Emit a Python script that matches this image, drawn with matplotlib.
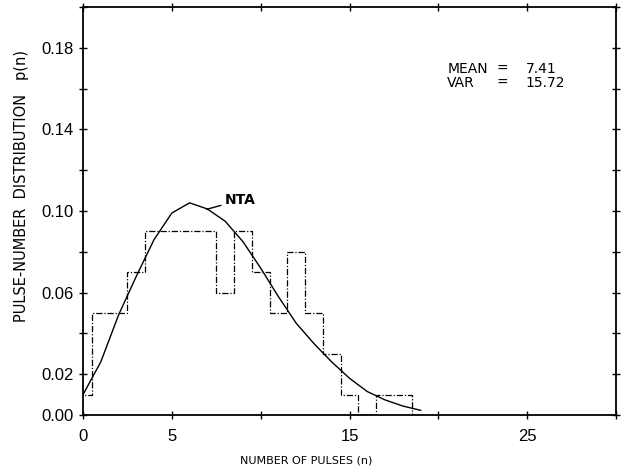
import numpy as np
import matplotlib
matplotlib.use("Agg")
import matplotlib.pyplot as plt

# observed pulse-number histogram, bins centred on n = 0..18
n_obs = np.arange(0, 19)
p_obs = [0.01, 0.05, 0.05, 0.07, 0.09, 0.09, 0.09, 0.09, 0.06, 0.09,
         0.07, 0.05, 0.08, 0.05, 0.03, 0.01, 0.00, 0.01, 0.01]

# NTA fit, read at integer n
n_nta = np.arange(0, 20)
p_nta = [0.010, 0.026, 0.049, 0.068, 0.086, 0.099, 0.104, 0.101, 0.095, 0.085,
         0.072, 0.058, 0.045, 0.035, 0.026, 0.018, 0.0115, 0.0074, 0.0044, 0.0023]

x_ticks = [0, 5, 10, 15, 20, 25, 30]
x_ticklabels = ["0", "5", "", "15", "", "25", ""]
y_ticks = [0.00, 0.02, 0.04, 0.06, 0.08, 0.10, 0.12, 0.14, 0.16, 0.18, 0.20]
y_ticklabels = ["0.00", "0.02", "", "0.06", "", "0.10", "", "0.14", "", "0.18", ""]

stats_names = ["MEAN", "VAR"]
stats_values = ["7.41", "15.72"]

tickfont = ["Liberation Sans", "DejaVu Sans"]

fig = plt.figure(figsize=(6.21, 4.73), dpi=100)
ax = fig.add_axes([83 / 621, 58 / 473, 533 / 621, 408 / 473])

# histogram (dash-dot steps)
edges = np.append(n_obs - 0.5, n_obs[-1] + 0.5)
ax.stairs(p_obs, edges, baseline=0, color="black", linewidth=0.9,
          linestyle=(0, (5, 1.5, 1, 1.5)))

# fitted curve
ax.plot(n_nta, p_nta, color="black", linewidth=1.0)

ax.set_xlim(0, 30)
ax.set_ylim(0, 0.2)

ax.set_xticks(x_ticks)
ax.set_xticklabels(x_ticklabels, family=tickfont, fontsize=12)
ax.set_yticks(y_ticks)
ax.set_yticklabels(y_ticklabels, family=tickfont, fontsize=12)
ax.tick_params(top=True, right=True, direction="inout", length=6, width=1)
ax.tick_params(axis="x", pad=7)
ax.tick_params(axis="y", pad=4)
for s in ax.spines.values():
    s.set_linewidth(1.3)

fig.text(306 / 621, 1 - 460 / 473, "NUMBER OF PULSES (n)", ha="center",
         va="center", fontsize=8)
fig.text(22 / 621, 1 - 186 / 473, "PULSE-NUMBER  DISTRIBUTION   p(n)",
         ha="center", va="center", rotation=90, fontsize=10.5)

# statistics box
for i, (name, val) in enumerate(zip(stats_names, stats_values)):
    y = 0.1696 - i * 0.0069
    ax.text(20.5, y, name, ha="left", va="center", fontsize=10)
    ax.text(23.3, y, "=", ha="left", va="center", fontsize=10)
    ax.text(24.9, y, val, ha="left", va="center", fontsize=10)

ax.annotate("NTA", xy=(6.95, 0.1008), xytext=(8.0, 0.1054),
            ha="left", va="center", fontsize=10, fontweight="bold",
            arrowprops=dict(arrowstyle="-", color="black", lw=1,
                            shrinkA=1, shrinkB=0))

fig.savefig("out.png", dpi=100)
